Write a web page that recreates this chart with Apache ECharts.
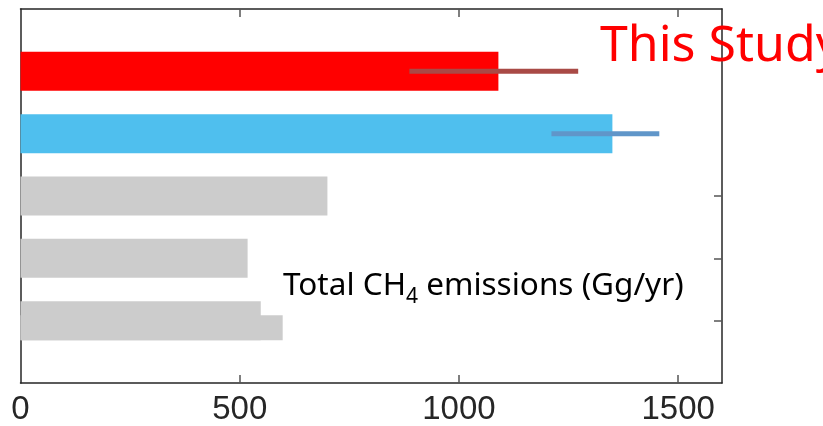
<!DOCTYPE html>
<html>
<head>
<meta charset="utf-8">
<script src="https://cdn.jsdelivr.net/npm/echarts@6/dist/echarts.min.js"></script>
<style>html,body{margin:0;padding:0;background:#fff;}#c{width:823px;height:426px;}</style>
</head>
<body>
<div id="c"></div>
<script>
// Data
var slots = ['', '1', '2', '3', '4', '5', ''];           // y positions (index 0..6)
var barSlots = [1, 2, 3, 4, 5];
var barValues = [548, 518, 700, 1350, 1090];                 // bottom -> top
var barColors = ['#cccccc', '#cccccc', '#cccccc', '#4fbfee', '#ff0000'];
var extraBar = [[598, 1]];                                   // lower part of bottom bar [value, slot]
var errorBars = [[887, 1272, 5, '#a94a46'], [1211, 1457, 4, '#6096c9']]; // [low, high, slot, color]
var xTicks = [0, 500, 1000, 1500];
var rightTickSlots = [1, 2, 3];

var chart = echarts.init(document.getElementById('c'));
var axisColor = '#262626';

chart.setOption({
  animation: false,
  grid: {left: 20.5, top: 9, right: 101, bottom: 41, containLabel: false},
  xAxis: [{
    type: 'value', min: 0, max: 1600, position: 'bottom',
    axisLine: {show: true, onZero: false, lineStyle: {color: axisColor, width: 1.5}},
    axisTick: {show: true, inside: true, length: 8, customValues: xTicks.slice(1), lineStyle: {color: '#555', width: 1.5}},
    axisLabel: {show: true, customValues: xTicks, fontFamily: 'Liberation Sans', fontSize: 33, color: axisColor, margin: 10,
      formatter: function (v) { return String(v); }},
    splitLine: {show: false}
  }, {
    type: 'value', min: 0, max: 1600, position: 'top',
    axisLine: {show: true, onZero: false, lineStyle: {color: axisColor, width: 1.5}},
    axisTick: {show: true, inside: true, length: 8, customValues: xTicks.slice(1), lineStyle: {color: '#555', width: 1.5}},
    axisLabel: {show: false},
    splitLine: {show: false}
  }],
  yAxis: [{
    type: 'category', data: slots, boundaryGap: false, position: 'left',
    axisLine: {show: true, onZero: false, lineStyle: {color: axisColor, width: 1.5}},
    axisTick: {show: false}, axisLabel: {show: false}, splitLine: {show: false}
  }, {
    type: 'category', data: slots, boundaryGap: false, position: 'right',
    axisLine: {show: true, onZero: false, lineStyle: {color: axisColor, width: 1.5}},
    axisTick: {show: true, inside: true, length: 8, lineStyle: {color: '#555', width: 1.5},
      interval: function (idx) { return rightTickSlots.indexOf(idx) >= 0; }},
    axisLabel: {show: false}, splitLine: {show: false}
  }],
  series: [{
    type: 'bar', xAxisIndex: 0, yAxisIndex: 0, barWidth: 39, z: 2,
    data: barSlots.map(function (s, i) {
      return {value: [barValues[i], slots[s]], itemStyle: {color: barColors[i]}};
    })
  }, {
    type: 'custom', xAxisIndex: 0, yAxisIndex: 0, z: 2,
    data: extraBar,
    renderItem: function (params, api) {
      var p0 = api.coord([0, api.value(1)]);
      var p1 = api.coord([api.value(0), api.value(1)]);
      return {type: 'rect', shape: {x: p0[0], y: p0[1] - 5.5, width: p1[0] - p0[0], height: 25}, style: {fill: '#cccccc'}};
    }
  }, {
    type: 'custom', xAxisIndex: 0, yAxisIndex: 0, z: 3,
    data: errorBars,
    renderItem: function (params, api) {
      var p0 = api.coord([api.value(0), api.value(2)]);
      var p1 = api.coord([api.value(1), api.value(2)]);
      return {type: 'rect', shape: {x: p0[0], y: p0[1] - 2.5, width: p1[0] - p0[0], height: 5},
        style: {fill: errorBars[params.dataIndex][3]}};
    }
  }],
  graphic: [{
    type: 'text', left: 600, top: 22, z: 10,
    style: {text: 'This Study', fill: '#ff0000', font: '50px "Noto Sans"'}
  }, {
    type: 'text', left: 283, top: 270, z: 10,
    style: {
      text: '{a|Total CH}{s|4}{a| emissions (Gg/yr)}',
      rich: {
        a: {fontFamily: 'Noto Sans', fontSize: 31.5, lineHeight: 44, fill: '#000', verticalAlign: 'middle'},
        s: {fontFamily: 'Noto Sans', fontSize: 21, lineHeight: 10, fill: '#000', verticalAlign: 'bottom'}
      }
    }
  }]
});
</script>
</body>
</html>
